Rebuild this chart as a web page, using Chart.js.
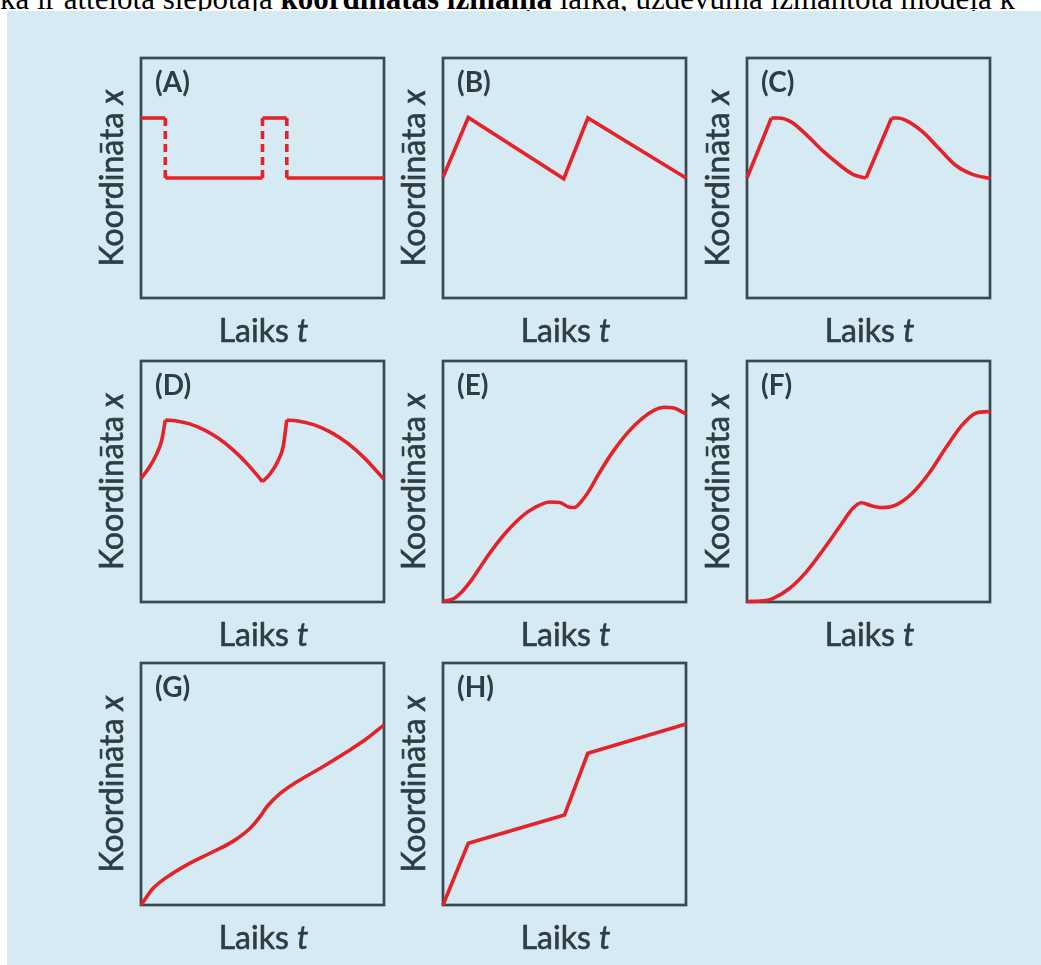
<!DOCTYPE html>
<html><head><meta charset="utf-8">
<script src="https://cdn.jsdelivr.net/npm/chart.js@4.4.1/dist/chart.umd.min.js"></script>
<style>
html,body{margin:0;padding:0;background:#fff;width:1041px;height:965px;overflow:hidden;position:relative}
#top{position:absolute;left:0;top:-17px;font-family:"Liberation Serif","Times New Roman",serif;font-size:31px;line-height:31px;white-space:nowrap;color:#000}
#bg{position:absolute;left:7px;top:11px;width:1034px;height:954px;background:#d5eaf3}
canvas{position:absolute}
</style></head><body>
<div id="top">ka ir attēlota slēpotāja <b>koordinātas izmaiņa</b> laikā, uzdevumā izmantotā modeļa k</div>
<div id="bg"></div>
<script>
// ---- data (time t on x, coordinate x on y, both 0..100 of the panel) ----
const panelLabels = ['(A)','(B)','(C)','(D)','(E)','(F)','(G)','(H)'];
const xAxisLabel = ['Laiks ', 't'];
const yAxisLabel = ['Koordināta ', 'x'];

const aT = [0,10,10,50,50,60,60,100];
const aX = [75,75,50,50,75,75,50,50];

const bT = [0,10.4,49.7,59.6,100];
const bX = [50.3,75.2,49.7,75,50];

const cRise1T = [0,10];            const cRise1X = [50,75];
const cFall1T = [10,13,18,24.5,31,38,44,49];
const cFall1X = [75,75,73.5,68,61.5,55.5,51.3,50];
const cRise2T = [49,59.5];         const cRise2X = [50,75];
const cFall2T = [59.5,62,65.4,72.3,79.1,86,92.8,100];
const cFall2X = [75,75,74,69.2,62.2,55.2,51.5,49.8];

const dRise1T = [0,3,6,8.5,10];               const dRise1X = [51.3,55.3,60.5,67,75.5];
const dFall1T = [10,14,20,26,32,38,44,50];     const dFall1X = [75.5,75.2,73.9,71.4,67.8,63,57,49.9];
const dRise2T = [50,53,56,58.5,60];           const dRise2X = [49.9,53,57.8,64.5,75.5];
const dFall2T = [60,64,71,78,85,92,100];      const dFall2X = [75.5,75.2,73.6,70.5,65.9,59.7,50.9];

const eT = [0,4,8,12,16,20,25,30,35,40,44,48,52,54,57,60,64,70,76,82,87,91,95,100];
const eX = [0.3,1.2,4.5,9.5,15.5,21.3,27.8,33.2,37.5,40.3,41.5,41.3,39.3,39.2,41.8,46,53,62.5,70.3,76.2,79.6,80.8,80.5,78];

const fT = [0,8,10.8,17.6,24.5,31.3,38.1,43.6,47,51,55.8,61.2,68,74.9,81.7,88.5,94,98.8,100];
const fX = [0.2,0.6,1.5,5.7,12.6,21.6,31.2,38.9,41.2,40,39.2,40.2,45.1,53.4,63.8,73.4,78.3,79,78.8];

const gT = [0,5,10.5,18.7,29.8,38,44.9,49,51.8,57.3,64.2,73.8,84.8,93.1,100];
const gX = [0,6.9,11.4,16.5,22.1,26.4,31.7,36.5,40.6,46.1,50.9,56.5,63.3,68.9,74.4];

const hT = [0,10.4,50,59.6,100];
const hX = [0,25.5,37.2,62.7,74.8];

// ---- styling / layout ----
const RED = '#e5222a', INK = '#2f3c44', FRAME = '#3a4950';
const COLS = [141,443,747], ROWS = [58,361,663], BOX_W = 243, BOX_H = [240,241,242];
const PAD = {left:70, top:12, right:12, bottom:60};
const FONT = '32px Lato', FONT_I = 'italic 32px Lato';

const pts = (T, X) => T.map((t,i) => ({x:t, y:X[i]}));
const seg = (T, X, smooth, dash) => ({data: pts(T,X), smooth, dash});

// panel A: horizontal pieces solid, vertical jumps dashed
function stepPieces(T, X){
  const out = [];
  for (let k = 0; k < T.length-1; k++){
    const vertical = T[k] === T[k+1];
    out.push(seg([T[k],T[k+1]],[X[k],X[k+1]], false, vertical ? [8,5] : []));
  }
  return out;
}

const panels = [
  stepPieces(aT,aX),
  [seg(bT,bX,false)],
  [seg(cRise1T,cRise1X,false), seg(cFall1T,cFall1X,true), seg(cRise2T,cRise2X,false), seg(cFall2T,cFall2X,true)],
  [seg(dRise1T,dRise1X,true), seg(dFall1T,dFall1X,true), seg(dRise2T,dRise2X,true), seg(dFall2T,dFall2X,true)],
  [seg(eT,eX,true)],
  [seg(fT,fX,true)],
  [seg(gT,gX,true)],
  [seg(hT,hX,false)]
];

function drawMixed(ctx, parts, cx, y){
  let w = 0;
  parts.forEach(p => { ctx.font = p[1]; w += ctx.measureText(p[0]).width; });
  let x = cx - w/2;
  ctx.textAlign = 'left'; ctx.textBaseline = 'alphabetic';
  parts.forEach(p => {
    ctx.font = p[1];
    ctx.fillText(p[0], x, y);
    ctx.strokeText(p[0], x, y);
    x += ctx.measureText(p[0]).width;
  });
}

const deco = {
  id: 'deco',
  beforeDatasetsDraw(chart){
    const {ctx, chartArea:a} = chart;
    ctx.save();
    ctx.strokeStyle = FRAME; ctx.lineWidth = 2.7;
    ctx.strokeRect(a.left, a.top, a.right-a.left, a.bottom-a.top);
    ctx.restore();
  },
  afterDraw(chart, args, opts){
    const {ctx, chartArea:a} = chart;
    ctx.save();
    ctx.fillStyle = INK; ctx.strokeStyle = INK; ctx.lineWidth = 0.6;
    ctx.font = 'bold 28px Lato'; ctx.textAlign = 'left'; ctx.textBaseline = 'alphabetic';
    ctx.fillText(opts.label, a.left+14, a.top+34);
    drawMixed(ctx, [[xAxisLabel[0], FONT], [xAxisLabel[1], FONT_I]], (a.left+a.right)/2 + 1, a.bottom+44);
    ctx.translate(a.left-18, (a.top+a.bottom)/2);
    ctx.rotate(-Math.PI/2);
    drawMixed(ctx, [[yAxisLabel[0], FONT], [yAxisLabel[1], FONT_I]], 0, 0);
    ctx.restore();
  }
};

panels.forEach((segs, i) => {
  const col = i % 3, row = Math.floor(i / 3);
  const bh = BOX_H[row];
  const cv = document.createElement('canvas');
  cv.width = BOX_W + PAD.left + PAD.right;
  cv.height = bh + PAD.top + PAD.bottom;
  cv.style.left = (COLS[col] - PAD.left) + 'px';
  cv.style.top = (ROWS[row] - PAD.top) + 'px';
  document.body.appendChild(cv);
  new Chart(cv, {
    type: 'line',
    data: {
      datasets: segs.map(s => ({
        data: s.data,
        borderColor: RED,
        borderWidth: 3.6,
        borderDash: s.dash || [],
        pointRadius: 0,
        fill: false,
        clip: false,
        tension: 0,
        cubicInterpolationMode: s.smooth ? 'monotone' : 'default',
        borderJoinStyle: 'miter',
        borderCapStyle: 'butt'
      }))
    },
    options: {
      responsive: false,
      animation: false,
      events: [],
      layout: {padding: PAD},
      scales: {
        x: {type:'linear', min:0, max:100, display:false},
        y: {type:'linear', min:0, max:100, display:false}
      },
      plugins: {
        legend: {display:false},
        tooltip: {enabled:false},
        deco: {label: panelLabels[i]}
      }
    },
    plugins: [deco]
  });
});
</script>
</body></html>
